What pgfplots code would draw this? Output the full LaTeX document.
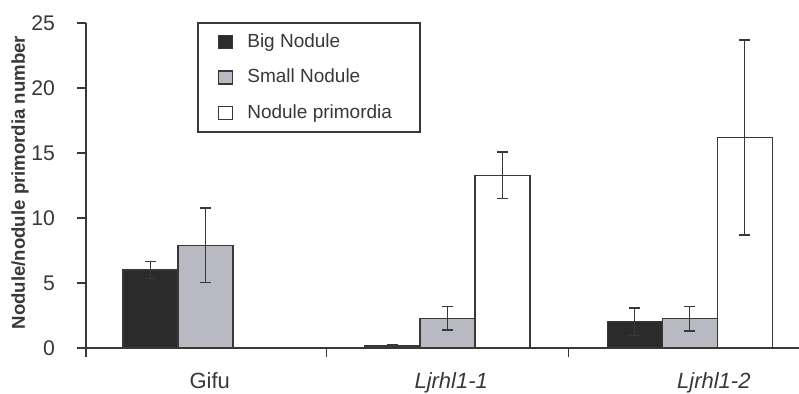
\documentclass[border=0pt]{standalone}
\usepackage{pgfplots}
\pgfplotsset{compat=1.18}
\usepackage{fontspec}
\setmainfont{Liberation Sans}
\definecolor{darkbar}{HTML}{2B2B2B}
\definecolor{greybar}{HTML}{B9B9C1}
\definecolor{axisgray}{HTML}{383838}
\begin{document}
\begin{tikzpicture}
\begin{axis}[
  name=ax,
  width=356.5bp, height=162.5bp, scale only axis,
  xmin=-0.494, xmax=2.452, ymin=0, ymax=25,
  axis x line*=bottom, axis y line*=left,
  axis line style={-, draw=axisgray, line width=0.8bp},
  every tick/.style={draw=axisgray, line width=0.8bp},
  tick align=outside,
  major tick length=4.5bp,
  ytick={0,5,...,25},
  /pgf/number format/assume math mode=true,
  yticklabel style={font=\fontsize{10.6bp}{12bp}\selectfont, text=axisgray, xshift=-7.5bp},
  xtick={-0.494,0.5,1.5}, xticklabels={},
  extra x ticks={0.017,1.015,2.1},
  extra x tick labels={Gifu,\textit{Ljrhl1-1},\textit{Ljrhl1-2}},
  extra x tick style={major tick length=0pt, xticklabel style={font=\fontsize{11bp}{13bp}\selectfont, text=axisgray, yshift=-9bp}},
  ylabel={\textbf{Nodule/nodule primordia number}},
  ylabel style={at={(axis description cs:-0.0926,0.509)}, anchor=center, font=\fontsize{9.3bp}{11bp}\selectfont, text=axisgray},
  ybar=0pt, bar width=27.5bp,
  legend style={at={(rel axis cs:0.156,1.003)}, anchor=north west,
    draw=axisgray, line width=0.8bp, font=\fontsize{9.5bp}{11bp}\selectfont, text=axisgray,
    inner xsep=10bp, inner ysep=3.5bp, row sep=5.3bp,
    nodes={inner xsep=4bp}},
  legend cell align=left,
  legend image code/.code={\draw[#1, line width=0.7bp] (0bp,-3.2bp) rectangle (6.8bp,3.2bp); \path (10bp,0bp);},
  error bars/error bar style={draw=axisgray, line width=0.8bp},
  error bars/error mark options={rotate=90, mark size=2.6bp, line width=0.8bp, draw=axisgray},
]
\addplot[fill=darkbar, draw=axisgray, line width=0.6bp, error bars/.cd, y dir=both, y explicit]
  coordinates {(0,6.0) +- (0,0.65) (1,0.15) +- (0,0.12) (2,2.02) +- (0,1.05)};
\addplot[fill=greybar, draw=axisgray, line width=0.6bp, error bars/.cd, y dir=both, y explicit]
  coordinates {(0,7.9) +- (0,2.85) (1,2.3) +- (0,0.9) (2,2.25) +- (0,0.93)};
\addplot[fill=white, draw=axisgray, line width=0.6bp, error bars/.cd, y dir=both, y explicit]
  coordinates {(1,13.3) +- (0,1.8) (2,16.2) +- (0,7.5)};
\legend{Big Nodule, Small Nodule, Nodule primordia}
\end{axis}
\pgfresetboundingbox
\path ([xshift=-43bp,yshift=-23bp]ax.south west) rectangle ([yshift=11.5bp]ax.north east);
\end{tikzpicture}
\end{document}
